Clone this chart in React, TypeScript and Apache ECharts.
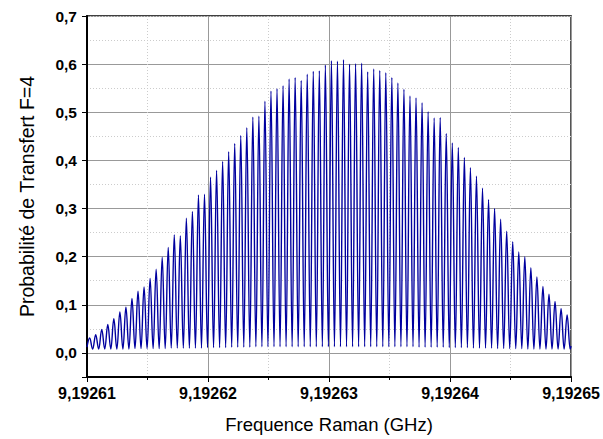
import React, { useEffect, useRef } from "react";
import * as echarts from "echarts";

// Frequency grid (offset from 9,19261 GHz, in kHz)
const baseFreqGHz = 9.19261;
const firstPeakKHz = 0.22;
const periodKHz = 0.4994;
const xTicksKHz = [0, 10, 20, 30, 40];
const yTickLabels = ["0,0", "0,1", "0,2", "0,3", "0,4", "0,5", "0,6", "0,7"];

// Peak heights (80 peaks, left to right)
const peakValues = [
  0.031, 0.038, 0.049, 0.059, 0.071, 0.085, 0.095, 0.113, 0.128, 0.137,
  0.155, 0.174, 0.199, 0.219, 0.245, 0.243, 0.280, 0.294, 0.328, 0.330,
  0.365, 0.379, 0.398, 0.418, 0.435, 0.452, 0.468, 0.490, 0.492, 0.523,
  0.544, 0.549, 0.555, 0.569, 0.572, 0.566, 0.579, 0.585, 0.586, 0.598,
  0.607, 0.606, 0.609, 0.600, 0.601, 0.602, 0.584, 0.590, 0.587, 0.582,
  0.572, 0.561, 0.548, 0.534, 0.530, 0.520, 0.501, 0.488, 0.489, 0.456,
  0.436, 0.427, 0.406, 0.385, 0.367, 0.342, 0.319, 0.300, 0.278, 0.253,
  0.231, 0.210, 0.200, 0.177, 0.158, 0.138, 0.122, 0.107, 0.092, 0.079,
];

// Trough values between consecutive peaks (79)
const troughValues = [
  0.008, 0.008, 0.008, 0.008, 0.008, 0.008, 0.008, 0.009, 0.009, 0.009,
  0.009, 0.009, 0.009, 0.010, 0.010, 0.010, 0.010, 0.010, 0.010, 0.011,
  0.011, 0.011, 0.011, 0.012, 0.012, 0.012, 0.012, 0.013, 0.013, 0.013,
  0.013, 0.013, 0.013, 0.013, 0.013, 0.013, 0.013, 0.013, 0.013, 0.013,
  0.013, 0.013, 0.013, 0.013, 0.013, 0.013, 0.013, 0.013, 0.013, 0.013,
  0.013, 0.013, 0.013, 0.013, 0.012, 0.012, 0.012, 0.012, 0.012, 0.011,
  0.011, 0.011, 0.011, 0.010, 0.010, 0.010, 0.010, 0.009, 0.009, 0.009,
  0.009, 0.009, 0.008, 0.008, 0.008, 0.008, 0.008, 0.008, 0.008,
];
const startValue = 0.012;
const endValue = 0.014;

function buildSeries(): [number, number][] {
  const pts: [number, number][] = [[xTicksKHz[0], startValue]];
  for (let i = 0; i < peakValues.length; i++) {
    const fp = firstPeakKHz + i * periodKHz;
    pts.push([fp, peakValues[i]]);
    if (i < troughValues.length) pts.push([fp + periodKHz / 2, troughValues[i]]);
  }
  const lastPeak = firstPeakKHz + (peakValues.length - 1) * periodKHz;
  pts.push([lastPeak + periodKHz / 2, troughValues[troughValues.length - 1]]);
  pts.push([xTicksKHz[xTicksKHz.length - 1], endValue]);
  return pts;
}

export default function App() {
  const ref = useRef<HTMLDivElement>(null);
  useEffect(() => {
    if (!ref.current) return;
    const chart = echarts.init(ref.current, undefined, { renderer: "svg" });
    const labelFont = "Liberation Sans, Arial, sans-serif";
    chart.setOption({
      animation: false,
      backgroundColor: "#ffffff",
      grid: {
        left: 87,
        right: 30,
        top: 16,
        bottom: 62,
        show: true,
        borderColor: "#000",
        borderWidth: 1.5,
        backgroundColor: "transparent",
      },
      xAxis: {
        type: "value",
        min: xTicksKHz[0],
        max: xTicksKHz[xTicksKHz.length - 1],
        interval: 10,
        name: "Frequence Raman (GHz)",
        nameLocation: "middle",
        nameGap: 38,
        nameTextStyle: { fontFamily: labelFont, fontSize: 18.5, color: "#000" },
        axisLine: { show: true, onZero: false, lineStyle: { color: "#000", width: 2 } },
        axisTick: { show: true, inside: false, length: 5, lineStyle: { color: "#000", width: 1 } },
        minorTick: { show: true, splitNumber: 2, length: 3, lineStyle: { color: "#000", width: 1 } },
        splitLine: { show: true, lineStyle: { color: "#999", width: 1 } },
        minorSplitLine: { show: true, lineStyle: { color: "#ccc", width: 1, type: [1, 2] } },
        axisLabel: {
          fontFamily: labelFont,
          fontWeight: "bold",
          fontSize: 16,
          color: "#000",
          margin: 8,
          formatter: (v: number) => (baseFreqGHz + v / 1e6).toFixed(5).replace(".", ","),
        },
      },
      yAxis: [
        {
          type: "value",
          min: -0.05,
          max: 0.7,
          splitNumber: 7,
          name: "Probabilité de Transfert F=4",
          nameLocation: "middle",
          nameGap: 50,
          nameTextStyle: { fontFamily: labelFont, fontSize: 19.5, color: "#000" },
          axisLine: { show: true, onZero: false, lineStyle: { color: "#000", width: 2 } },
          axisTick: { show: true, inside: false, length: 5, lineStyle: { color: "#000", width: 1 } },
          splitLine: { show: true, lineStyle: { color: "#999", width: 1 } },
          axisLabel: {
            fontFamily: labelFont,
            fontWeight: "bold",
            fontSize: 15.5,
            color: "#000",
            margin: 10,
            formatter: (v: number) => {
              if (v < -0.01) return "";
              const idx = Math.round(v * 10);
              return yTickLabels[idx] ?? "";
            },
          },
        },
        {
          type: "value",
          min: -0.05,
          max: 0.7,
          interval: 0.1,
          axisLine: { show: false },
          axisTick: { show: false },
          axisLabel: { show: false },
          splitLine: { show: true, lineStyle: { color: "#ccc", width: 1, type: [1, 2] } },
        },
      ],
      series: [
        {
          type: "line",
          yAxisIndex: 0,
          data: buildSeries(),
          showSymbol: false,
          smooth: 0.4,
          smoothMonotone: "x",
          lineStyle: { color: "#00009f", width: 1.4 },
          z: 5,
        },
      ],
    });
    return () => chart.dispose();
  }, []);
  return (
    <div
      ref={ref}
      style={{ position: "fixed", left: 0, top: 0, width: 603, height: 439, background: "#fff" }}
    />
  );
}
